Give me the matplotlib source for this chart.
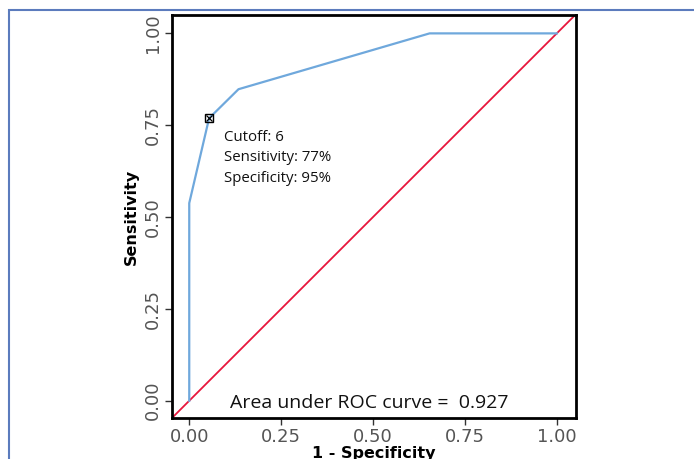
import numpy as np
import matplotlib
matplotlib.use('Agg')
import matplotlib.pyplot as plt
from matplotlib.patches import Rectangle

# ── ROC data ──
fpr = [0.0, 0.0, 0.054, 0.134, 0.654, 1.0]
tpr = [0.0, 0.538, 0.769, 0.848, 1.0, 1.0]
cut_fpr, cut_tpr = 0.054, 0.769
cut_lines = ['Cutoff: 6', 'Sensitivity: 77%', 'Specificity: 95%']
auc = 0.927
ticks = [0.0, 0.25, 0.5, 0.75, 1.0]
tick_labels = ['0.00', '0.25', '0.50', '0.75', '1.00']

fig = plt.figure(figsize=(6.94, 4.59), dpi=100)
ax = fig.add_axes([0.2478, 0.0893, 0.582, 0.878])

# outer frame (cut off at right/bottom)
fig.patches.append(Rectangle((9 / 694, -0.1), 1.2, 1 - 10 / 459 + 0.1,
                             transform=fig.transFigure, fill=False,
                             edgecolor='#5b7bbd', linewidth=1.5))

ax.plot([-0.05, 1.06], [-0.05, 1.06], color='#e8163c', linewidth=1.3, zorder=2)
ax.plot(fpr, tpr, color='#6fa8dc', linewidth=1.6, zorder=3)
ax.plot(cut_fpr, cut_tpr, marker='s', markersize=6, markerfacecolor='none',
        markeredgecolor='black', markeredgewidth=1.0, zorder=4)
ax.plot(cut_fpr, cut_tpr, marker='x', markersize=5, color='black',
        markeredgewidth=0.9, zorder=4)

ax.text(0.095, 0.738, '\n'.join(cut_lines), fontsize=10.8, family='Open Sans',
        va='top', ha='left', linespacing=1.5, color='#111111')
ax.text(0.49, -0.005, 'Area under ROC curve =  %.3f' % auc, fontsize=14,
        family='Open Sans', ha='center', va='center', color='#111111')

ax.set_xlim(-0.047, 1.052)
ax.set_ylim(-0.047, 1.05)
ax.set_xticks(ticks)
ax.set_xticklabels(tick_labels)
ax.set_yticks(ticks)
ax.set_yticklabels(tick_labels, rotation=90, va='center')
ax.tick_params(axis='both', labelsize=13, labelcolor='#555555', length=5,
               width=1.0, color='#333333', pad=2)
for s in ax.spines.values():
    s.set_linewidth(2)
    s.set_color('black')

ax.set_xlabel('1 - Specificity', fontsize=11.5, fontweight='bold', labelpad=0)
ax.set_ylabel('Sensitivity', fontsize=11.5, fontweight='bold', labelpad=4)

fig.savefig('out.png', dpi=100)
